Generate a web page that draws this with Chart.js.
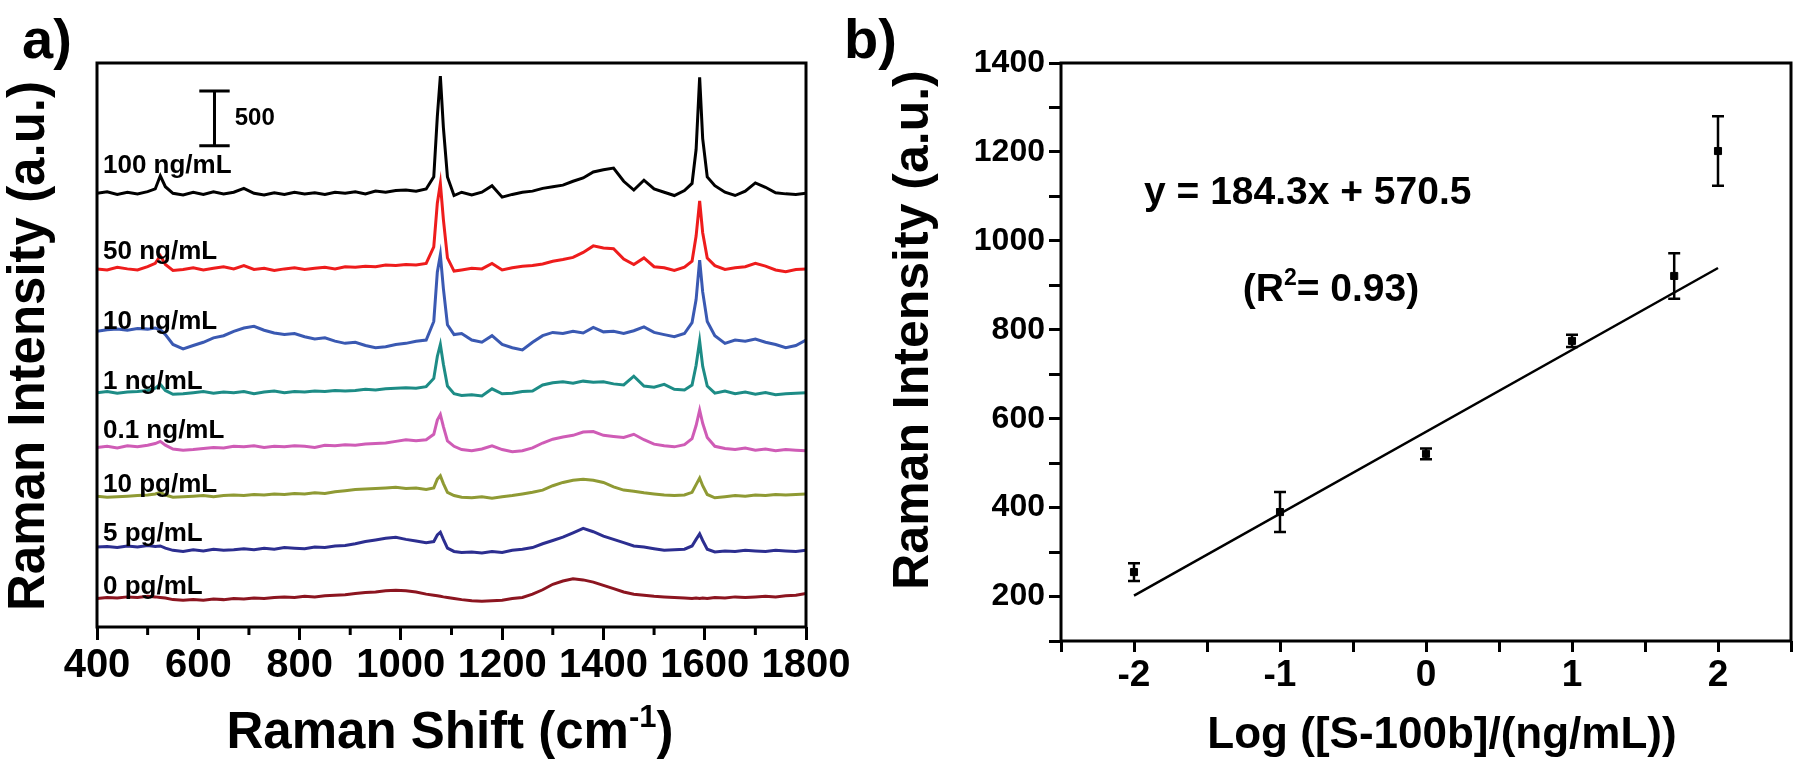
<!DOCTYPE html>
<html>
<head>
<meta charset="utf-8">
<script src="https://cdn.jsdelivr.net/npm/chart.js@4.4.1/dist/chart.umd.min.js"></script>
<style>
  html, body { margin: 0; padding: 0; background: #fff; }
  body { width: 1800px; height: 769px; position: relative; overflow: hidden; }
  canvas { position: absolute; top: 0; }
  #chartA { left: 0; }
  #chartB { left: 840px; }
</style>
</head>
<body>
<canvas id="chartB" width="960" height="769"></canvas>
<canvas id="chartA" width="870" height="769"></canvas>
<script>
// ---- data panel a: Raman spektra (relatif terhadap baseline, a.u.) ----
const wavenumbers = [
  400, 420, 440, 460, 480, 500, 515, 525, 535, 550,
  570, 590, 610, 630, 650, 670, 690, 710, 730, 750,
  770, 790, 810, 830, 850, 870, 890, 910, 930, 950,
  970, 990, 1010, 1030, 1050, 1065, 1072, 1078, 1084, 1092,
  1105, 1120, 1140, 1160, 1180, 1200, 1220, 1240, 1260, 1280,
  1300, 1320, 1340, 1360, 1380, 1400, 1420, 1440, 1460, 1480,
  1500, 1520, 1540, 1560, 1575, 1583, 1590, 1596, 1605, 1620,
  1640, 1660, 1680, 1700, 1720, 1740, 1760, 1780, 1800
];

const spectrumLabels = ['100 ng/mL', '50 ng/mL', '10 ng/mL', '1 ng/mL', '0.1 ng/mL', '10 pg/mL', '5 pg/mL', '0 pg/mL'];
const spectrumOffsets = [3960, 3270, 2640, 2140, 1640, 1200, 700, 260];
const spectrumColors = ['#000000', '#ee1c1c', '#3a59b2', '#1d8c86', '#cf5cb6', '#8f9a34', '#2c2e90', '#8c1520'];

const spec100ng = [
  0, 15, -10, 10, -5, 15, 40, 160, 60, 0,
  -15, 10, -10, 15, -5, 10, 45, 0, -15, 5,
  -10, 10, -5, 5, -10, 10, 0, 15, -5, 20,
  10, 25, 30, 20, 40, 150, 700, 1070, 600, 150,
  -20, 10, -15, 10, 70, -35, -10, 10, 20, 45,
  60, 75, 110, 140, 195, 215, 230, 110, 30, 120,
  40, 10, -20, 25, 90, 400, 1060, 500, 150, 70,
  10, -20, 20, 95, 55, 5, -5, -10, 0
];
const spec50ng = [
  0, -10, 15, 0, -10, 20, 50, 120, 40, -15,
  -5, 10, -10, 5, 20, 0, 30, -5, 5, -15,
  0, 10, -5, 5, 15, 0, 20, 15, 25, 20,
  35, 30, 40, 35, 50, 200, 600, 780, 450, 100,
  -20, -10, 5, 0, 50, -10, 10, 25, 30, 45,
  70, 85, 105, 150, 210, 190, 185, 90, 40, 100,
  20, 10, -15, 15, 70, 300, 620, 330, 100, 30,
  -5, 10, 20, 50, 25, -10, -25, -5, 0
];
const spec10ng = [
  60, 75, 80, 70, 85, 80, 90, 75, 30, -60,
  -100, -70, -40, 0, 20, 60, 90, 105, 70, 45,
  30, 40, 10, -10, 0, -30, -50, -40, -70, -90,
  -80, -60, -50, -30, -20, 150, 600, 760, 450, 120,
  30, 40, -20, -40, 20, -60, -90, -110, -40, 20,
  50, 40, 60, 45, 95, 55, 60, 40, 65, 100,
  50, 30, 10, 40, 140, 350, 710, 420, 150, 20,
  -50, -20, -30, -10, -40, -60, -90, -70, -20
];
const spec1ng = [
  0, 10, -5, 5, 10, 20, 40, 75, 20, -15,
  -10, 0, 10, -5, 5, 0, 10, -10, 5, 15,
  0, 10, 5, 15, 10, 20, 15, 20, 30, 25,
  35, 40, 45, 40, 55, 130, 330, 440, 260, 60,
  -10, -25, -20, -30, 35, -10, -5, 10, 15, 70,
  90, 100, 85, 105, 95, 100, 80, 70, 150, 60,
  50, 75, 30, 25, 70, 250, 470, 240, 60, -5,
  15, -10, 5, -15, 0, -20, -10, -5, 0
];
const spec01ng = [
  0, 10, -5, 15, 5, 20, 35, 55, 20, -15,
  -25, -20, -10, 0, -5, 10, 5, 15, 0, 10,
  5, 15, 10, 0, 20, 15, 25, 20, 30, 35,
  40, 55, 70, 60, 70, 120, 250, 300, 190, 60,
  10, -20, -30, -15, 15, -20, -40, -30, -5, 40,
  75, 95, 110, 140, 145, 110, 100, 90, 120, 70,
  30, 15, 5, 25, 80, 200, 340, 220, 90, 10,
  -10, -20, -5, -25, -15, -30, -20, -25, -30
];
const spec10pg = [
  -5, -15, -10, -5, 0, 5, 15, 30, 5, -15,
  -10, -5, 0, -10, 0, 5, 0, 10, 5, 15,
  10, 20, 15, 25, 20, 35, 45, 55, 60, 65,
  70, 75, 65, 70, 55, 70, 150, 180, 110, 30,
  0, -15, -20, -10, -25, -10, 0, 15, 30, 50,
  90, 120, 140, 150, 140, 120, 80, 50, 40, 25,
  15, 5, 0, 5, 30, 100, 160, 90, 10, -20,
  -10, 0, -5, 5, 0, 10, 5, 10, 15
];
const spec5pg = [
  30, 35, 25, 40, 30, 45, 35, 40, 20, 0,
  -10, 5, -5, 10, 0, 5, 15, 5, 20, 10,
  25, 20, 15, 30, 25, 40, 45, 60, 80, 95,
  110, 120, 100, 85, 70, 80, 140, 165, 100, 20,
  -10, -20, -15, -25, -10, -20, 0, 10, 25, 60,
  90, 120, 160, 200, 170, 130, 100, 70, 40, 30,
  15, 0, 5, 10, 40, 100, 150, 90, 10, -15,
  -5, -10, 0, -5, -10, 0, -5, -10, 0
];
const spec0pg = [
  0, 10, 5, 15, 10, 20, 15, 10, 5, -10,
  -15, -10, -15, -5, -10, 0, -5, 5, 0, 10,
  15, 10, 20, 15, 25, 30, 35, 45, 55, 60,
  70, 75, 70, 60, 40, 30, 25, 20, 15, 10,
  0, -10, -20, -25, -20, -15, 0, 10, 40, 80,
  130, 160, 180, 170, 150, 120, 90, 60, 40, 30,
  20, 15, 10, 5, 0, 5, 0, 5, 0, 10,
  5, 15, 10, 15, 20, 15, 25, 30, 45
];
const spectra = [spec100ng, spec50ng, spec10ng, spec1ng, spec01ng, spec10pg, spec5pg, spec0pg];

// skala batang 500 a.u.
const scaleBarX = [602, 662];
const scaleBarCenterX = 632;
const scaleBarY = [4395, 4895];

const xTicksA = [400, 600, 800, 1000, 1200, 1400, 1600, 1800];

// ---- data panel b: kurva kalibrasi ----
const logConc = [-2, -1, 0, 1, 1.7, 2];
const intensity = [255, 390, 521, 775, 921, 1202];
const intensityErr = [20, 45, 12, 14, 51, 78];
const fitLogX = [-2, 2];
const fitIntensity = [202, 939];

const FONT = "'Liberation Sans', Arial, Helvetica, sans-serif";
Chart.defaults.font.family = FONT;
Chart.defaults.color = '#000';

// teks dengan superskrip sederhana
function drawRich(ctx, parts, cx, y, size) {
  let total = 0;
  parts.forEach(function(p) {
    ctx.font = 'bold ' + (p.sup ? Math.round(size * 0.6) : size) + 'px ' + FONT;
    p.w = ctx.measureText(p.t).width;
    total += p.w;
  });
  let x = cx - total / 2;
  ctx.textAlign = 'left';
  ctx.textBaseline = 'alphabetic';
  parts.forEach(function(p) {
    ctx.font = 'bold ' + (p.sup ? Math.round(size * 0.6) : size) + 'px ' + FONT;
    ctx.fillText(p.t, x, p.sup ? y - size * 0.42 : y);
    x += p.w;
  });
}

function initializeSpectraChart() {
  const ctx = document.getElementById('chartA');
  if (!ctx) return;

  const datasets = spectra.map(function(values, i) {
    return {
      label: spectrumLabels[i],
      data: wavenumbers.map(function(w, j) { return { x: w, y: values[j] + spectrumOffsets[i] }; }),
      borderColor: spectrumColors[i],
      borderWidth: 3,
      pointRadius: 0,
      tension: 0
    };
  });

  // batang skala: tutup atas, garis vertikal, tutup bawah
  datasets.push({
    label: 'scale',
    data: [
      { x: scaleBarX[0], y: scaleBarY[1] }, { x: scaleBarX[1], y: scaleBarY[1] }, { x: scaleBarX[1], y: null },
      { x: scaleBarCenterX, y: scaleBarY[1] }, { x: scaleBarCenterX, y: scaleBarY[0] }, { x: scaleBarCenterX + 1, y: null },
      { x: scaleBarX[0], y: scaleBarY[0] }, { x: scaleBarX[1], y: scaleBarY[0] }
    ],
    borderColor: '#000',
    borderWidth: 3,
    pointRadius: 0,
    spanGaps: false
  });

  const labelLift = [20, 10, 9, 4, 9, 4, 9, 5];

  const decorA = {
    id: 'decorA',
    afterDraw: function(chart) {
      const c = chart.ctx;
      const a = chart.chartArea;
      const xs = chart.scales.x;
      const ys = chart.scales.y;
      c.save();
      c.strokeStyle = '#000';
      c.lineWidth = 3;
      c.strokeRect(a.left, a.top, a.right - a.left, a.bottom - a.top);
      // minor ticks
      for (let v = 500; v < 1800; v += 200) {
        const px = xs.getPixelForValue(v);
        c.beginPath();
        c.moveTo(px, a.bottom);
        c.lineTo(px, a.bottom + 8);
        c.stroke();
      }
      c.fillStyle = '#000';
      // label konsentrasi
      c.font = 'bold 26px ' + FONT;
      c.textAlign = 'left';
      c.textBaseline = 'alphabetic';
      spectrumLabels.forEach(function(t, i) {
        c.fillText(t, 103, ys.getPixelForValue(spectrumOffsets[i]) - labelLift[i]);
      });
      c.font = 'bold 24px ' + FONT;
      c.textBaseline = 'middle';
      c.fillText('500', xs.getPixelForValue(scaleBarX[1]) + 5, ys.getPixelForValue((scaleBarY[0] + scaleBarY[1]) / 2));
      // panel label
      c.font = 'bold 56px ' + FONT;
      c.textBaseline = 'alphabetic';
      c.fillText('a)', 22, 58);
      // judul sumbu
      drawRich(c, [{ t: 'Raman Shift (cm' }, { t: '-1', sup: true }, { t: ')' }], 450, 748, 51);
      c.translate(30, 346);
      c.rotate(-Math.PI / 2);
      c.font = 'bold 51px ' + FONT;
      c.textAlign = 'center';
      c.textBaseline = 'middle';
      c.fillText('Raman Intensity (a.u.)', 0, 0);
      c.restore();
    }
  };

  new Chart(ctx.getContext('2d'), {
    type: 'line',
    data: { datasets: datasets },
    options: {
      responsive: false,
      animation: false,
      layout: { padding: { left: 97, top: 63, right: 64, bottom: 0 } },
      plugins: { legend: { display: false }, tooltip: { enabled: false } },
      scales: {
        x: {
          type: 'linear',
          min: 400,
          max: 1800,
          afterFit: function(scale) { scale.height = 142; },
          afterBuildTicks: function(scale) {
            scale.ticks = xTicksA.map(function(v) { return { value: v }; });
          },
          border: { display: false },
          grid: { drawOnChartArea: false, drawTicks: true, tickLength: 13, tickWidth: 3, tickColor: '#000' },
          ticks: {
            font: { size: 40, weight: 'bold' },
            color: '#000',
            padding: 2,
            maxRotation: 0,
            autoSkip: false,
            callback: function(v) { return String(v); }
          }
        },
        y: { display: false, min: 0, max: 5150 }
      }
    },
    plugins: [decorA]
  });
}

function initializeCalibrationChart() {
  const ctx = document.getElementById('chartB');
  if (!ctx) return;

  const points = logConc.map(function(x, i) { return { x: x, y: intensity[i] }; });
  const fitPoints = fitLogX.map(function(x, i) { return { x: x, y: fitIntensity[i] }; });

  const decorB = {
    id: 'decorB',
    afterDraw: function(chart) {
      const c = chart.ctx;
      const a = chart.chartArea;
      const xs = chart.scales.x;
      const ys = chart.scales.y;
      c.save();
      c.strokeStyle = '#000';
      c.fillStyle = '#000';
      c.lineWidth = 3;
      c.strokeRect(a.left, a.top, a.right - a.left, a.bottom - a.top);
      // error bar
      c.lineWidth = 2.5;
      logConc.forEach(function(x, i) {
        const px = xs.getPixelForValue(x);
        const top = ys.getPixelForValue(intensity[i] + intensityErr[i]);
        const bot = ys.getPixelForValue(intensity[i] - intensityErr[i]);
        c.beginPath();
        c.moveTo(px, top); c.lineTo(px, bot);
        c.moveTo(px - 6, top); c.lineTo(px + 6, top);
        c.moveTo(px - 6, bot); c.lineTo(px + 6, bot);
        c.stroke();
      });
      c.font = 'bold 56px ' + FONT;
      c.textAlign = 'left';
      c.textBaseline = 'alphabetic';
      c.fillText('b)', 4, 58);
      c.font = 'bold 39px ' + FONT;
      c.fillText('y = 184.3x + 570.5', 304, 204);
      drawRich(c, [{ t: '(R' }, { t: '2', sup: true }, { t: '= 0.93)' }], 491, 301, 39);
      drawRich(c, [{ t: 'Log ([S-100b]/(ng/mL))' }], 602, 748, 44);
      c.translate(74, 330);
      c.rotate(-Math.PI / 2);
      c.font = 'bold 50px ' + FONT;
      c.textAlign = 'center';
      c.textBaseline = 'middle';
      c.fillText('Raman Intensity (a.u.)', 0, 0);
      c.restore();
    }
  };

  new Chart(ctx.getContext('2d'), {
    type: 'scatter',
    data: {
      datasets: [
        { label: 'data', data: points, pointStyle: 'rect', pointRadius: 5, backgroundColor: '#000', borderColor: '#000' },
        { type: 'line', label: 'fit', data: fitPoints, borderColor: '#000', borderWidth: 2.5, pointRadius: 0 }
      ]
    },
    options: {
      responsive: false,
      animation: false,
      layout: { padding: { left: 0, top: 63, right: 9, bottom: 0 } },
      plugins: { legend: { display: false }, tooltip: { enabled: false } },
      scales: {
        x: {
          type: 'linear',
          min: -2.5,
          max: 2.5,
          afterFit: function(scale) { scale.height = 128; },
          border: { display: false },
          grid: { drawOnChartArea: false, tickLength: 11, tickWidth: 3, tickColor: '#000' },
          ticks: {
            stepSize: 0.5,
            font: { size: 37, weight: 'bold' },
            color: '#000',
            padding: 2,
            maxRotation: 0,
            autoSkip: false,
            callback: function(v) { return Math.abs(v - Math.round(v)) < 1e-6 ? String(Math.round(v)) : ''; }
          }
        },
        y: {
          type: 'linear',
          min: 100,
          max: 1400,
          afterFit: function(scale) { scale.width = 221; },
          border: { display: false },
          grid: { drawOnChartArea: false, tickLength: 12, tickWidth: 3, tickColor: '#000' },
          ticks: {
            stepSize: 100,
            font: { size: 32, weight: 'bold' },
            color: '#000',
            padding: 4,
            autoSkip: false,
            callback: function(v) { return v % 200 === 0 ? String(v) : ''; }
          }
        }
      }
    },
    plugins: [decorB]
  });
}

document.addEventListener('DOMContentLoaded', function() {
  initializeSpectraChart();
  initializeCalibrationChart();
});
</script>
</body>
</html>
